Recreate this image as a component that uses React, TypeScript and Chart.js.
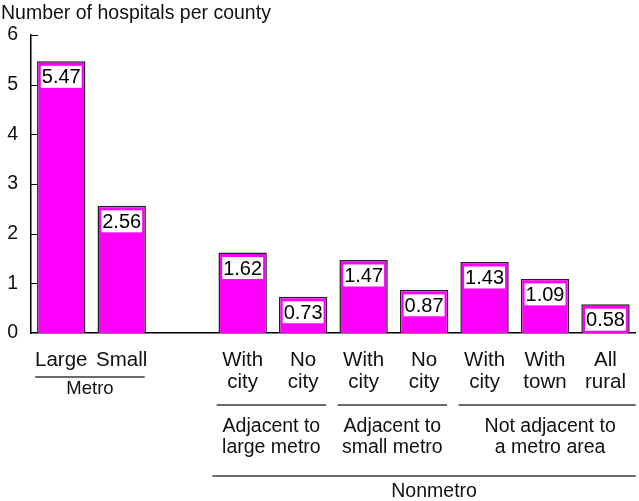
import React, { useEffect, useRef } from 'react';
import { Chart, registerables } from 'chart.js';

Chart.register(...registerables);

const titleText = 'Number of hospitals per county';
const categories: (string | string[])[] = [
  'Large', 'Small', '',
  ['With', 'city'], ['No', 'city'],
  ['With', 'city'], ['No', 'city'],
  ['With', 'city'], ['With', 'town'], ['All', 'rural'],
];
const values: (number | null)[] = [5.47, 2.56, null, 1.62, 0.73, 1.47, 0.87, 1.43, 1.09, 0.58];
const valueLabels = ['5.47', '2.56', '', '1.62', '0.73', '1.47', '0.87', '1.43', '1.09', '0.58'];
const yTicks = [0, 1, 2, 3, 4, 5, 6];
const groupNames: string[][] = [
  ['Metro'],
  ['Adjacent to', 'large metro'],
  ['Adjacent to', 'small metro'],
  ['Not adjacent to', 'a metro area'],
  ['Nonmetro'],
];
const groupFrom = [0, 3, 5, 7, 3];
const groupTo = [1, 4, 6, 9, 9];
const groupRow = [0, 1, 1, 1, 2];

const FONT = '"Liberation Sans", Arial, sans-serif';

const decorPlugin = {
  id: 'decor',
  afterDatasetsDraw(chart: any) {
    const ctx = chart.ctx;
    const meta = chart.getDatasetMeta(0);
    ctx.save();
    ctx.font = `20px ${FONT}`;
    ctx.textAlign = 'center';
    ctx.textBaseline = 'middle';
    meta.data.forEach((bar: any, i: number) => {
      const txt = valueLabels[i];
      if (!txt || values[i] == null) return;
      const w = ctx.measureText(txt).width + 2;
      const h = 22;
      const top = bar.y + 4.5;
      ctx.fillStyle = '#ffffff';
      ctx.fillRect(bar.x - w / 2, top, w, h);
      ctx.fillStyle = '#000000';
      ctx.fillText(txt, bar.x, top + h / 2 + 1);
    });
    ctx.restore();
  },
  afterDraw(chart: any) {
    const ctx = chart.ctx;
    const x = chart.scales.x;
    const y = chart.scales.y;
    const area = chart.chartArea;
    ctx.save();
    // title
    ctx.font = `19.5px ${FONT}`;
    ctx.fillStyle = '#111111';
    ctx.textAlign = 'left';
    ctx.textBaseline = 'middle';
    ctx.fillText(titleText, 1, 14);
    // inward y tick marks
    ctx.strokeStyle = '#000000';
    ctx.lineWidth = 1;
    yTicks.forEach((v) => {
      if (v === 0) return;
      const py = Math.round(y.getPixelForValue(v)) + 0.5;
      ctx.beginPath();
      ctx.moveTo(area.left, py);
      ctx.lineTo(area.left + 7, py);
      ctx.stroke();
    });
    // group brackets
    const pitch = x.getPixelForValue(1) - x.getPixelForValue(0);
    const rowLineY = [377, 405, 476];
    const rowTextY = [389, 427, 492];
    groupNames.forEach((lines, g) => {
      const r = groupRow[g];
      const cf = x.getPixelForValue(groupFrom[g]);
      const ct = x.getPixelForValue(groupTo[g]);
      let x0 = cf - 0.43 * pitch;
      let x1 = ct + 0.38 * pitch;
      if (r === 2) {
        x0 = cf - 0.5 * pitch;
        x1 = area.right;
      }
      if (r === 1 && groupTo[g] === categories.length - 1) x1 = area.right;
      ctx.strokeStyle = '#3a3a3a';
      ctx.lineWidth = 1.5;
      ctx.beginPath();
      ctx.moveTo(x0, rowLineY[r]);
      ctx.lineTo(x1, rowLineY[r]);
      ctx.stroke();
      ctx.fillStyle = '#111111';
      ctx.textAlign = 'center';
      ctx.textBaseline = 'middle';
      ctx.font = `${r === 0 ? 18.5 : 19.5}px ${FONT}`;
      let cx = (x0 + Math.min(x1, 639)) / 2;
      if (r === 2) cx = (x0 + ct + 0.5 * pitch + 20) / 2;
      if (r === 1 && groupTo[g] === categories.length - 1) cx += 3;
      lines.forEach((t, k) => {
        ctx.fillText(t, cx, rowTextY[r] + k * 21);
      });
    });
    ctx.restore();
  },
};

export default function App() {
  const ref = useRef<HTMLCanvasElement | null>(null);
  useEffect(() => {
    if (!ref.current) return;
    const chart = new Chart(ref.current, {
      type: 'bar',
      data: {
        labels: categories as any,
        datasets: [
          {
            data: values as any,
            backgroundColor: '#ff00ff',
            borderColor: '#222222',
            borderWidth: 1.5,
            borderSkipped: 'bottom',
            barPercentage: 0.8,
            categoryPercentage: 1,
          },
        ],
      },
      options: {
        responsive: false,
        animation: false,
        layout: { padding: { top: 35, left: 0, right: 0, bottom: 0 } },
        plugins: { legend: { display: false }, tooltip: { enabled: false }, title: { display: false } },
        scales: {
          x: {
            type: 'category',
            grid: { display: false, drawTicks: false },
            border: { display: true, color: '#000000', width: 1.5 },
            ticks: {
              color: '#111111',
              font: { family: FONT, size: 20.5, lineHeight: 1.08 },
              padding: 16,
              maxRotation: 0,
              autoSkip: false,
            },
            afterFit: (s: any) => {
              s.height = 168;
            },
          },
          y: {
            min: 0,
            max: 6,
            grid: { display: false, drawTicks: false },
            border: { display: true, color: '#000000', width: 1.5 },
            ticks: {
              stepSize: 1,
              color: '#111111',
              font: { family: FONT, size: 19.5 },
              padding: 13,
            },
            afterFit: (s: any) => {
              s.width = 31;
            },
          },
        },
      },
      plugins: [decorPlugin],
    });
    return () => chart.destroy();
  }, []);
  return (
    <div style={{ position: 'absolute', left: 0, top: 0, width: 639, height: 501, overflow: 'hidden', background: '#fff' }}>
      <canvas ref={ref} width={642} height={501} style={{ width: 642, height: 501, display: 'block' }} />
    </div>
  );
}
